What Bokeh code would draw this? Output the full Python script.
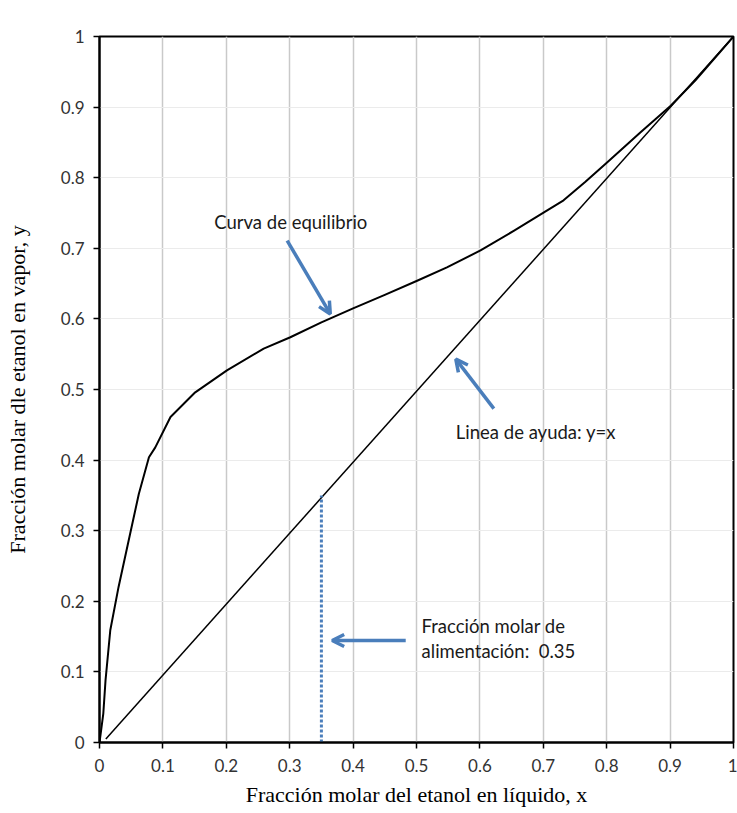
from bokeh.plotting import figure
from bokeh.models import Arrow, OpenHead, Label, FixedTicker
from bokeh.embed import file_html
from bokeh.resources import INLINE

# Equilibrium curve (ethanol-water, p = 1 atm)
x_liq = [0, 0.006, 0.0095, 0.017, 0.030, 0.046, 0.062, 0.078, 0.088, 0.112, 0.151,
         0.201, 0.259, 0.301, 0.35, 0.40, 0.45, 0.501, 0.548, 0.601,
         0.654, 0.701, 0.732, 0.766, 0.801, 0.853, 0.901, 0.94, 1.0]
y_vap = [0, 0.041, 0.088, 0.159, 0.22, 0.286, 0.352, 0.404, 0.418, 0.461, 0.496,
         0.527, 0.558, 0.574, 0.595, 0.615, 0.634, 0.654, 0.673, 0.697,
         0.725, 0.751, 0.768, 0.794, 0.822, 0.864, 0.902, 0.938, 1.0]

# Helper line y = x
diag_x = [0.01, 1.0]
diag_y = [0.005, 1.0]

# Feed composition
feed = 0.35

tick_vals = [0, 0.1, 0.2, 0.3, 0.4, 0.5, 0.6, 0.7, 0.8, 0.9, 1.0]
tick_labels = {0: "0", 0.1: "0.1", 0.2: "0.2", 0.3: "0.3", 0.4: "0.4", 0.5: "0.5",
               0.6: "0.6", 0.7: "0.7", 0.8: "0.8", 0.9: "0.9", 1.0: "1"}

# Annotations: (x_start, y_start, x_end, y_end)
arrow_curve = (0.296, 0.711, 0.364, 0.607)
arrow_diag = (0.622, 0.473, 0.562, 0.543)
arrow_feed = (0.483, 0.1445, 0.367, 0.1445)

label_curve = ("Curva de equilibrio", 0.181, 0.737)
label_diag = ("Linea de ayuda: y=x", 0.562, 0.44)
label_feed1 = ("Fracción molar de", 0.508, 0.165)
label_feed2 = ("alimentación:\u00a0 0.35", 0.508, 0.130)

BLUE = "#4a7ebb"
SANS = "Lato"
SERIF = "Liberation Serif"

p = figure(width=737, height=813, x_range=(0, 1), y_range=(0, 1),
           output_backend="svg", toolbar_location=None,
           min_border_left=99, min_border_right=4, min_border_top=36, min_border_bottom=71)
p.background_fill_color = "white"
p.border_fill_color = "white"
p.outline_line_color = "black"
p.outline_line_width = 2

for ax in (p.xaxis[0], p.yaxis[0]):
    ax.ticker = FixedTicker(ticks=tick_vals)
    ax.major_label_overrides = tick_labels
    ax.axis_line_color = "black"
    ax.axis_line_width = 2
    ax.major_tick_line_color = "black"
    ax.major_tick_line_width = 1.5
    ax.major_tick_out = 6
    ax.major_tick_in = 0
    ax.minor_tick_line_color = None
    ax.major_label_text_font = SANS
    ax.major_label_text_font_size = "17px"
    ax.major_label_text_color = "#333333"
    ax.axis_label_text_font = SERIF
    ax.axis_label_text_font_size = "22px"
    ax.axis_label_text_font_style = "normal"
    ax.axis_label_text_color = "black"

p.xaxis.axis_label = "Fracción molar del etanol en líquido, x"
p.yaxis.axis_label = "Fracción molar dle etanol en vapor, y"
p.xaxis.major_label_standoff = 10
p.yaxis.major_label_standoff = 9
p.xaxis.axis_label_standoff = 7
p.yaxis.axis_label_standoff = 28

p.xgrid.ticker = FixedTicker(ticks=tick_vals)
p.ygrid.ticker = FixedTicker(ticks=tick_vals)
p.xgrid.grid_line_color = "#c9c9c9"
p.xgrid.grid_line_width = 1.5
p.ygrid.grid_line_color = "#ebebeb"
p.ygrid.grid_line_width = 1

p.line(x_liq, y_vap, line_color="black", line_width=2, line_join="round")
p.line(diag_x, diag_y, line_color="black", line_width=1.5)
p.line([feed, feed], [0, feed], line_color=BLUE, line_width=3, line_dash="3 2")

for (xs, ys, xe, ye) in (arrow_curve, arrow_diag, arrow_feed):
    p.add_layout(Arrow(end=OpenHead(size=12, line_width=3.5, line_color=BLUE),
                       x_start=xs, y_start=ys, x_end=xe, y_end=ye,
                       line_color=BLUE, line_width=3.5))

for (txt, lx, ly) in (label_curve, label_diag, label_feed1, label_feed2):
    p.add_layout(Label(x=lx, y=ly, text=txt, text_font=SANS, text_font_size="18.5px",
                       text_color="#1a1a1a", text_baseline="middle", text_align="left"))

p.add_layout(Label(x=1, y=1, text="p=1 atm", x_offset=-9, y_offset=4,
                   text_font=SERIF, text_font_size="21px", text_color="black",
                   text_align="right", text_baseline="bottom"))

open("out.html", "w").write(file_html(p, INLINE))
